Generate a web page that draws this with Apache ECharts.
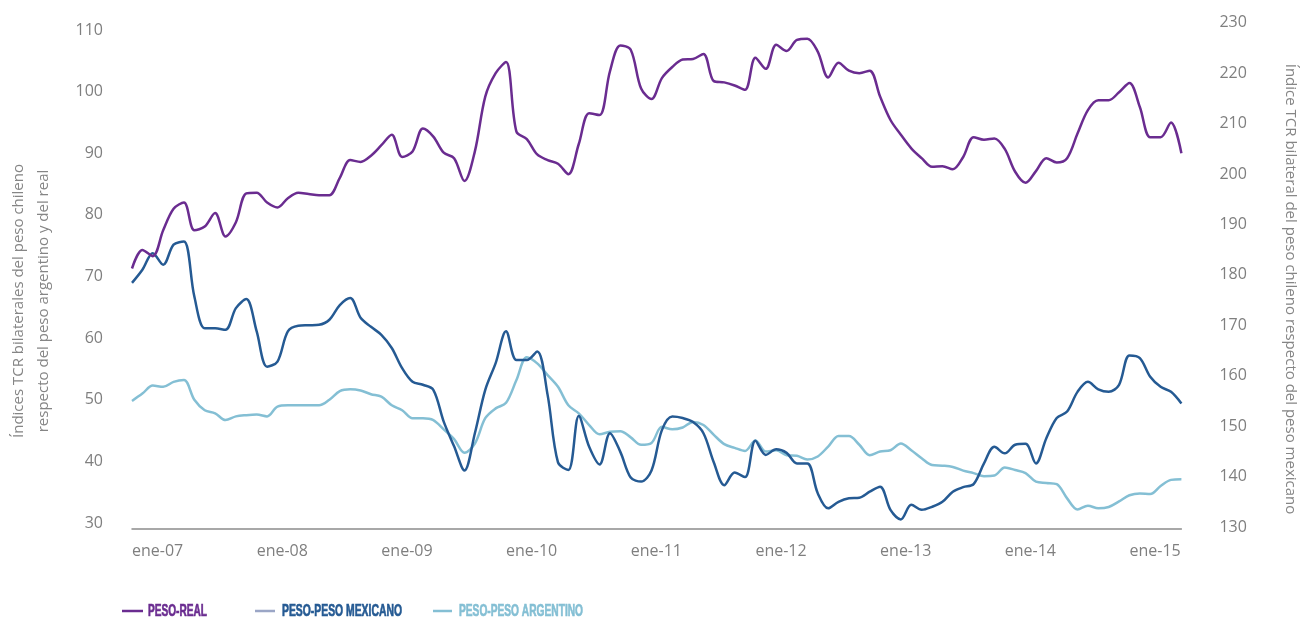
<!DOCTYPE html>
<html>
<head>
<meta charset="utf-8">
<script src="https://cdn.jsdelivr.net/npm/echarts@6/dist/echarts.min.js"></script>
<style>html,body{margin:0;padding:0;background:#fff}#c{width:1300px;height:618px}</style>
</head>
<body>
<div id="c"></div>
<script>
// ---- data ----
const monthNames = ['ene','feb','mar','abr','may','jun','jul','ago','sep','oct','nov','dic'];
const years = ['07','08','09','10','11','12','13','14','15'];
const lastYearMonths = 6; // ene-15 .. jun-15

const pesoReal = [
  71.3, 74.3, 73.3, 77.5, 81.0, 82.0, 77.5, 78.1, 80.3, 76.5, 78.8, 83.5,
  83.6, 82.0, 81.2, 82.7, 83.6, 83.4, 83.2, 83.2, 86.0, 88.9, 88.6, 89.6,
  91.3, 93.0, 89.4, 90.3, 94.0, 92.7, 90.1, 89.2, 85.5, 90.3, 99.2, 103.0,
  104.8, 93.5, 92.3, 89.8, 88.9, 88.3, 86.6, 91.5, 96.5, 96.2, 103.3, 107.5,
  106.8, 100.5, 98.8, 102.2, 104.0, 105.2, 105.3, 106.1, 101.7, 101.5, 101.0, 100.3,
  105.5, 103.7, 107.6, 106.6, 108.4, 108.6, 106.5, 102.3, 104.7, 103.4, 103.0, 103.4,
  99.2, 95.4, 93.0, 90.8, 89.2, 87.8, 87.9, 87.4, 89.4, 92.6, 92.2, 92.4,
  90.7, 87.0, 85.2, 87.1, 89.2, 88.5, 89.2, 93.2, 97.0, 98.6, 98.6, 99.9,
  101.4, 97.5, 92.6, 92.6, 95.0, 90.0
];
const pesoMexicano = [
  178.4, 181.0, 184.3, 182.0, 186.0, 186.6, 175.7, 169.4, 169.4, 169.1, 173.4, 175.2,
  168.8, 161.8, 162.8, 168.8, 169.9, 170.0, 170.1, 171.1, 174.0, 175.4, 171.5, 169.7,
  168.1, 165.5, 161.5, 158.8, 158.2, 157.2, 150.9, 146.0, 141.2, 148.6, 157.2, 162.5,
  168.8, 163.1, 163.1, 164.8, 156.2, 142.8, 141.3, 152.0, 145.9, 142.4, 148.6, 144.9,
  139.8, 139.0, 141.2, 149.2, 151.9, 151.6, 150.8, 148.6, 142.8, 138.3, 140.8, 139.9,
  147.1, 144.3, 145.4, 144.7, 142.6, 142.6, 136.7, 133.7, 135.0, 135.7, 135.8, 137.0,
  138.0, 133.4, 131.5, 134.4, 133.4, 134.0, 135.0, 137.0, 137.9, 138.5, 142.6, 145.9,
  144.6, 146.3, 146.5, 142.6, 147.6, 151.6, 152.9, 156.8, 158.8, 157.3, 156.8, 158.2,
  164.0, 163.5, 159.8, 157.8, 156.8, 154.5
];
const pesoArgentino = [
  49.8, 51.0, 52.3, 52.1, 52.9, 53.2, 50.0, 48.3, 47.8, 46.7, 47.3, 47.5,
  47.6, 47.3, 48.9, 49.1, 49.1, 49.1, 49.1, 50.0, 51.4, 51.7, 51.5, 50.9,
  50.5, 49.1, 48.3, 47.0, 47.0, 46.7, 45.2, 43.6, 41.4, 42.9, 47.0, 48.6,
  49.5, 53.2, 56.9, 55.9, 54.0, 52.1, 49.1, 47.8, 45.9, 44.4, 44.8, 44.9,
  43.9, 42.7, 43.0, 45.6, 45.2, 45.5, 46.4, 45.9, 44.3, 42.8, 42.2, 41.7,
  43.4, 41.6, 41.8, 41.0, 40.9, 40.3, 40.8, 42.4, 44.1, 44.1, 42.7, 41.0,
  41.6, 41.8, 42.9, 41.8, 40.5, 39.4, 39.3, 39.1, 38.5, 38.1, 37.6, 37.7,
  39.0, 38.6, 38.1, 36.7, 36.5, 36.3, 34.0, 32.2, 32.8, 32.4, 32.6, 33.5,
  34.5, 34.8, 34.7, 36.0, 37.0, 37.1
];

const seriesNames = ['PESO-REAL', 'PESO-PESO MEXICANO', 'PESO-PESO ARGENTINO'];
const leftAxis = {min: 30, max: 110, interval: 10};
const rightAxis = {min: 130, max: 230, interval: 10};
const leftTitle = 'Índices TCR bilaterales del peso chileno\nrespecto del peso argentino y del real';
const rightTitle = 'Índice TCR bilateral del peso chileno respecto del peso mexicano';

// ---- categories ----
const categories = [];
years.forEach((y, yi) => {
  const n = (yi === years.length - 1) ? lastYearMonths : 12;
  for (let m = 0; m < n; m++) categories.push(monthNames[m] + '-' + y);
});

// ---- style ----
const C_REAL = '#6a2c90';
const C_MEX = '#255a93';
const C_ARG = '#84bfd4';
const C_MEX_LEG = '#9ba6c6';
const GRAY = '#7f7f7f';
const FONT = '"Open Sans", "Liberation Sans", sans-serif';
const SMOOTH = 0.33;

const gridLeft = 132, gridRight = 118.6;

// legend: condensed bold look via horizontal scale
const LEG_FAMILY = '"Liberation Sans Narrow", "Liberation Sans", Arial, sans-serif';
const LEG_SIZE = 17;
const cv = document.createElement('canvas').getContext('2d');
cv.font = 'bold ' + LEG_SIZE + 'px ' + LEG_FAMILY;
function legendItem(lx1, lx2, tx, targetW, text, lineColor, textColor) {
  const w = cv.measureText(text).width || targetW;
  return [
    {type: 'line', shape: {x1: lx1, y1: 611, x2: lx2, y2: 611}, style: {stroke: lineColor, lineWidth: 2.5}},
    {type: 'text', x: tx, y: 611, scaleX: targetW / w,
     style: {text: text, fontSize: LEG_SIZE, fontWeight: 'bold', fontFamily: LEG_FAMILY,
             fill: textColor, stroke: textColor, lineWidth: 0.7,
             textAlign: 'left', textVerticalAlign: 'middle'}}
  ];
}

const chart = echarts.init(document.getElementById('c'), null, {renderer: 'canvas'});
chart.setOption({
  animation: false,
  backgroundColor: '#ffffff',
  grid: [
    {left: gridLeft, right: gridRight, top: 30, height: 493},
    {left: gridLeft, right: gridRight, top: 22.7, height: 504.3}
  ],
  xAxis: [
    {
      type: 'category', gridIndex: 0, data: categories, boundaryGap: false, offset: 6,
      axisLine: {show: true, lineStyle: {color: '#8c8c8c', width: 1.5}},
      axisTick: {show: false},
      axisLabel: {
        interval: (idx, val) => val.indexOf('ene') === 0,
        align: 'left', margin: 14, color: GRAY, fontSize: 16, fontFamily: FONT
      },
      splitLine: {show: false}
    },
    {
      type: 'category', gridIndex: 1, data: categories, boundaryGap: false, show: false
    }
  ],
  yAxis: [
    {
      type: 'value', gridIndex: 0, position: 'left',
      min: leftAxis.min, max: leftAxis.max, interval: leftAxis.interval,
      axisLine: {show: false}, axisTick: {show: false}, splitLine: {show: false},
      axisLabel: {margin: 29, color: GRAY, fontSize: 16, fontFamily: FONT}
    },
    {
      type: 'value', gridIndex: 1, position: 'right',
      min: rightAxis.min, max: rightAxis.max, interval: rightAxis.interval,
      axisLine: {show: false}, axisTick: {show: false}, splitLine: {show: false},
      axisLabel: {margin: 38, color: GRAY, fontSize: 16, fontFamily: FONT}
    }
  ],
  series: [
    {
      name: seriesNames[2], type: 'line', xAxisIndex: 0, yAxisIndex: 0, data: pesoArgentino,
      smooth: SMOOTH, symbol: 'none', lineStyle: {color: C_ARG, width: 2.5}, itemStyle: {color: C_ARG}, z: 2
    },
    {
      name: seriesNames[1], type: 'line', xAxisIndex: 1, yAxisIndex: 1, data: pesoMexicano,
      smooth: SMOOTH, symbol: 'none', lineStyle: {color: C_MEX, width: 2.5}, itemStyle: {color: C_MEX}, z: 3
    },
    {
      name: seriesNames[0], type: 'line', xAxisIndex: 0, yAxisIndex: 0, data: pesoReal,
      smooth: SMOOTH, symbol: 'none', lineStyle: {color: C_REAL, width: 2.5}, itemStyle: {color: C_REAL}, z: 4
    }
  ],
  graphic: [
    {type: 'text', x: 31.5, y: 301, rotation: Math.PI / 2,
     style: {text: leftTitle, fontSize: 15, fontFamily: FONT, fill: '#858585',
             textAlign: 'center', textVerticalAlign: 'middle', lineHeight: 25}},
    {type: 'text', x: 1290, y: 289, rotation: -Math.PI / 2,
     style: {text: rightTitle, fontSize: 15, fontFamily: FONT, fill: '#858585',
             textAlign: 'center', textVerticalAlign: 'middle'}}
  ].concat(
    legendItem(122, 143, 148, 59, seriesNames[0], C_REAL, C_REAL),
    legendItem(255, 275, 282, 120, seriesNames[1], C_MEX_LEG, C_MEX),
    legendItem(433, 452, 459, 124, seriesNames[2], C_ARG, C_ARG)
  )
});
</script>
</body>
</html>
